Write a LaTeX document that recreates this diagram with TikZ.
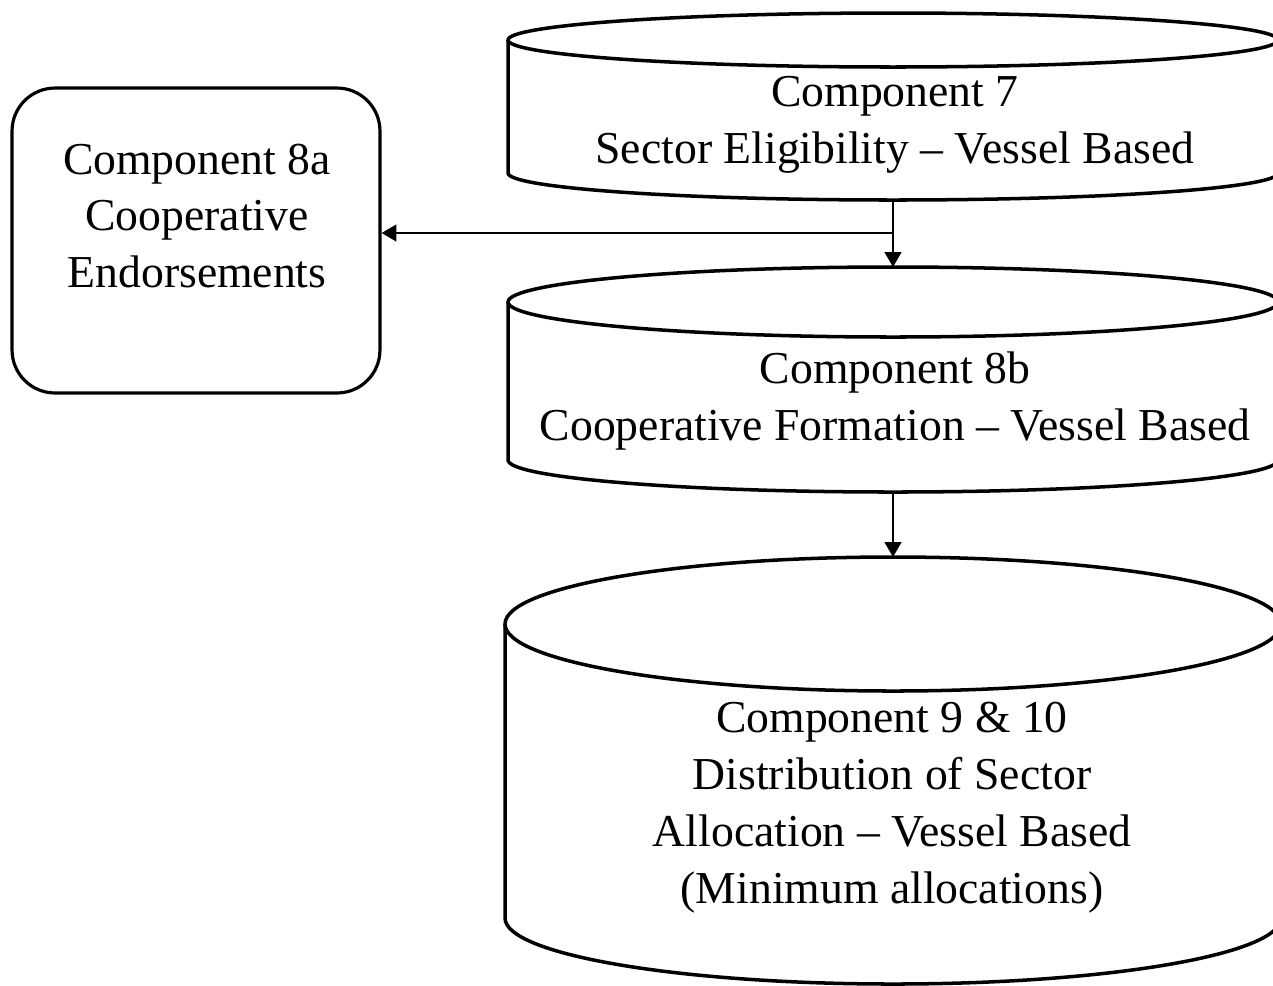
\documentclass[tikz,border=0pt]{standalone}
\usepackage{fontspec}
\setmainfont{Liberation Serif}
\usetikzlibrary{arrows.meta}
\begin{document}
\begin{tikzpicture}[x=0.02cm, y=0.02cm,
  cyl/.style={line width=2pt, line join=round},
  roundbox/.style={draw, line width=1.8pt, rounded corners=0.86cm,
    minimum width=7.36cm, minimum height=6.1cm, inner sep=0pt},
  lbl/.style={align=center, inner sep=0pt,
    font=\fontsize{26}{32.4}\selectfont},
  conn/.style={line width=1.4pt, -{Triangle[length=8.5pt, width=9.5pt]}}]

% page frame
\fill[white] (0,0) rectangle (1273,-985);
\useasboundingbox (0,0) rectangle (1273,-985);
\clip (0,0) rectangle (1273,-985);

% Component 8a: rounded box
\node[roundbox] (c8a) at (196,-240.5) {};
\node[lbl] (c8atext) at (197,-216) {Component 8a\\Cooperative\\Endorsements};

% Component 7 cylinder
\draw[cyl] (508,-40) -- (508,-173)
  arc[start angle=180, end angle=360, x radius=385, y radius=27] -- (1278,-40);
\draw[cyl] (893,-40) ellipse[x radius=385, y radius=27];
\node[lbl] (c7) at (895,-125) {Component 7\\Sector Eligibility -- Vessel Based};
\coordinate (c7bot) at (893,-200);

% Component 8b cylinder
\draw[cyl] (508,-302) -- (508,-460)
  arc[start angle=180, end angle=360, x radius=385, y radius=32] -- (1278,-302);
\draw[cyl] (893,-302) ellipse[x radius=385, y radius=35];
\node[lbl] (c8b) at (895,-401) {Component 8b\\Cooperative Formation -- Vessel Based};
\coordinate (c8btop) at (893,-267);
\coordinate (c8bbot) at (893,-492);

% Component 9 & 10 cylinder
\draw[cyl] (505,-624) -- (505,-918)
  arc[start angle=180, end angle=360, x radius=388, y radius=66] -- (1281,-624);
\draw[cyl] (893,-624) ellipse[x radius=388, y radius=67];
\node[lbl] (c910) at (892,-808) {Component 9 \& 10\\Distribution of Sector\\Allocation -- Vessel Based\\(Minimum allocations)};
\coordinate (c910top) at (893,-557);

% connectors
\coordinate (j) at (893,-233);
\draw[conn] (c7bot) -- (c8btop);
\draw[conn] (j) -- (j -| c8a.east);
\draw[conn] (c8bbot) -- (c910top);

\end{tikzpicture}
\end{document}
